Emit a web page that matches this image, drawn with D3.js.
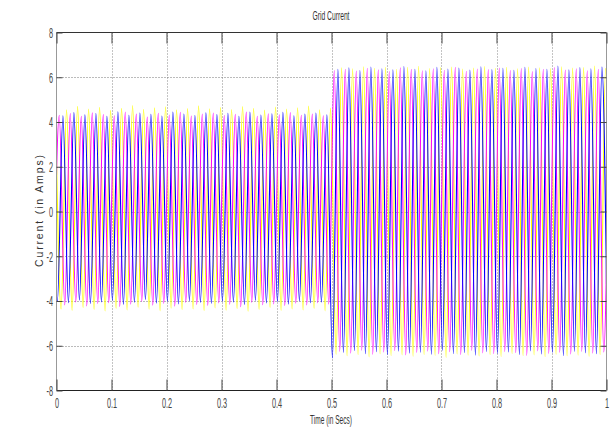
<!DOCTYPE html>
<html><head><meta charset="utf-8">
<script src="https://cdn.jsdelivr.net/npm/d3@7"></script>
<style>html,body{margin:0;padding:0;background:#fff;} svg{display:block;}</style>
</head><body><svg id="chart" width="613" height="429"></svg>
<script>
// ---------- data ----------
const titleText = "Grid Current";
const xLabelText = "Time (in Secs)";
const yLabelText = "Current (in Amps)";
const xTicks = [0, 0.1, 0.2, 0.3, 0.4, 0.5, 0.6, 0.7, 0.8, 0.9, 1];
const xTickLabels = ["0", "0.1", "0.2", "0.3", "0.4", "0.5", "0.6", "0.7", "0.8", "0.9", "1"];
const yTicks = [-8, -6, -4, -2, 0, 2, 4, 6, 8];
const yTickLabels = ["-8", "-6", "-4", "-2", "0", "2", "4", "6", "8"];
const gridX = [0.1, 0.2, 0.3, 0.4, 0.5, 0.6, 0.7, 0.8, 0.9];
const gridY = [-6, -4, -2, 0, 2, 4, 6];

// 50 Hz three-phase grid current: one peak per cycle (seconds between peaks)
const period = 0.02;
// time of the first positive / negative peak of each phase (s)
const yellowPosStart = -0.00167, yellowNegStart = 0.00833;
const magentaPosStart = 0.005, magentaNegStart = -0.005;
const bluePosStart = -0.00833, blueNegStart = 0.00167;

// peak values per cycle (A)
const yellowPos = [4.62,4.55,4.70,4.58,4.66,4.52,4.61,4.74,4.57,4.63,4.68,4.54,4.60,4.72,4.59,4.65,4.56,4.69,4.61,4.53,4.67,4.58,4.64,4.71,4.55,4.62,
  6.42,6.38,6.47,6.40,6.45,6.36,6.44,6.49,6.39,6.43,6.46,6.37,6.41,6.48,6.40,6.44,6.38,6.46,6.42,6.39,6.47,6.41,6.43,6.50,6.40];
const yellowNeg = [-4.35,-4.42,-4.30,-4.38,-4.45,-4.33,-4.40,-4.28,-4.37,-4.44,-4.32,-4.39,-4.36,-4.43,-4.31,-4.41,-4.34,-4.46,-4.38,-4.29,-4.42,-4.35,-4.40,-4.33,-4.44,
  -6.38,-6.45,-6.40,-6.50,-6.36,-6.44,-6.41,-6.47,-6.39,-6.43,-6.52,-6.37,-6.42,-6.46,-6.40,-6.48,-6.35,-6.44,-6.41,-6.49,-6.38,-6.45,-6.42,-6.47,-6.39,-6.44];
const magentaPos = [4.30,4.38,4.25,4.41,4.33,4.28,4.45,4.35,4.22,4.39,4.31,4.43,4.27,4.36,4.40,4.29,4.34,4.44,4.26,4.37,4.32,4.42,4.30,4.35,4.28,
  6.30,6.36,6.28,6.40,6.33,6.26,6.42,6.35,6.29,6.38,6.31,6.44,6.27,6.37,6.34,6.41,6.30,6.39,6.25,6.36,6.43,6.32,6.38,6.29,6.35,6.40];
const magentaNeg = [-4.10,-4.18,-4.05,-4.22,-4.12,-4.08,-4.25,-4.14,-4.02,-4.19,-4.11,-4.23,-4.07,-4.16,-4.20,-4.09,-4.15,-4.26,-4.06,-4.17,-4.13,-4.21,-4.10,-4.18,-4.08,-4.14,
  -6.25,-6.33,-6.20,-6.38,-6.28,-6.22,-6.41,-6.30,-6.24,-6.36,-6.27,-6.39,-6.21,-6.32,-6.35,-6.26,-6.31,-6.43,-6.23,-6.34,-6.29,-6.37,-6.25,-6.33,-6.28];
const bluePos = [4.35,4.28,4.42,4.32,4.38,4.25,4.46,4.30,4.40,4.34,4.27,4.44,4.36,4.29,4.41,4.33,4.39,4.26,4.45,4.31,4.37,4.43,4.28,4.35,4.40,4.32,
  6.35,6.42,6.30,6.46,6.38,6.33,6.48,6.36,6.29,6.44,6.37,6.41,6.32,6.47,6.34,6.40,6.31,6.45,6.39,6.36,6.50,6.33,6.43,6.38,6.46];
const blueNeg = [-4.00,-4.08,-3.96,-4.12,-4.04,-3.98,-4.15,-4.06,-3.94,-4.10,-4.02,-4.13,-3.99,-4.07,-4.11,-4.01,-4.05,-4.16,-3.97,-4.09,-4.03,-4.14,-4.00,-4.08,-4.05,
  -6.55,-6.30,-6.22,-6.36,-6.27,-6.40,-6.24,-6.33,-6.29,-6.38,-6.21,-6.35,-6.31,-6.42,-6.26,-6.34,-6.28,-6.39,-6.23,-6.37,-6.30,-6.44,-6.25,-6.32,-6.36,-6.29];

// ---------- layout ----------
const pLeft = 56.5, pRight = 606.5, pTop = 32.5, pBottom = 390.5;
const svg = d3.select("#chart");
const x = d3.scaleLinear().domain([0, 1]).range([pLeft, pRight]);
const y = d3.scaleLinear().domain([-8, 8]).range([pBottom, pTop]);

function buildSeries(posStart, pos, negStart, neg) {
  const pts = pos.map((v, i) => ({t: posStart + i * period, v}))
    .concat(neg.map((v, i) => ({t: negStart + i * period, v})));
  return pts.sort((a, b) => a.t - b.t);
}
const series = [
  {color: "#ffff00", data: buildSeries(yellowPosStart, yellowPos, yellowNegStart, yellowNeg)},
  {color: "#ff00ff", data: buildSeries(magentaPosStart, magentaPos, magentaNegStart, magentaNeg)},
  {color: "#0000ff", data: buildSeries(bluePosStart, bluePos, blueNegStart, blueNeg)}
];

// grid
svg.append("g").selectAll("line").data(gridX).join("line")
  .attr("x1", d => Math.round(x(d)) + 0.5).attr("x2", d => Math.round(x(d)) + 0.5)
  .attr("y1", pTop).attr("y2", pBottom)
  .attr("stroke", "#888").attr("stroke-dasharray", "1,2");
svg.append("g").selectAll("line").data(gridY).join("line")
  .attr("y1", d => Math.round(y(d)) + 0.5).attr("y2", d => Math.round(y(d)) + 0.5)
  .attr("x1", pLeft).attr("x2", pRight)
  .attr("stroke", "#777").attr("stroke-dasharray", "1,2");

// waveforms
svg.append("clipPath").attr("id", "plotclip").append("rect")
  .attr("x", pLeft).attr("y", pTop).attr("width", pRight - pLeft).attr("height", pBottom - pTop);
const line = d3.line().x(d => x(d.t)).y(d => y(d.v)).curve(d3.curveMonotoneX);
svg.append("g").attr("clip-path", "url(#plotclip)")
  .selectAll("path").data(series).join("path")
  .attr("d", d => line(d.data))
  .attr("fill", "none").attr("stroke", d => d.color).attr("stroke-width", 1.1);

// box
svg.append("line").attr("x1", pLeft).attr("x2", pRight).attr("y1", pTop).attr("y2", pTop).attr("stroke", "#333");
svg.append("line").attr("x1", pLeft).attr("x2", pRight).attr("y1", pBottom).attr("y2", pBottom).attr("stroke", "#222");
svg.append("line").attr("x1", pLeft).attr("x2", pLeft).attr("y1", pTop).attr("y2", pBottom).attr("stroke", "#999");
svg.append("line").attr("x1", pRight).attr("x2", pRight).attr("y1", pTop).attr("y2", pBottom).attr("stroke", "#999");

const tickFont = "'Liberation Sans', Arial, sans-serif";
const squeezeX = 0.47;

// axes
const xAxis = svg.append("g").attr("transform", `translate(0,${pBottom})`)
  .call(d3.axisBottom(x).tickValues(xTicks).tickFormat((d, i) => xTickLabels[i]).tickSizeInner(-11).tickSizeOuter(0).tickPadding(7));
const xTopAxis = svg.append("g").attr("transform", `translate(0,${pTop})`)
  .call(d3.axisTop(x).tickValues(xTicks).tickFormat("").tickSizeInner(-11).tickSizeOuter(0));
const yAxis = svg.append("g").attr("transform", `translate(${pLeft},0)`)
  .call(d3.axisLeft(y).tickValues(yTicks).tickFormat((d, i) => yTickLabels[i]).tickSizeInner(-6).tickSizeOuter(0).tickPadding(3.5));
const yRightAxis = svg.append("g").attr("transform", `translate(${pRight},0)`)
  .call(d3.axisRight(y).tickValues(yTicks).tickFormat("").tickSizeInner(-6).tickSizeOuter(0));
[xAxis, xTopAxis, yAxis, yRightAxis].forEach(g => {
  g.select(".domain").remove();
  g.selectAll(".tick line").attr("stroke", "#444");
  g.selectAll("text").attr("font-family", tickFont).attr("font-size", 15.5).attr("fill", "#444");
});
xAxis.selectAll(".tick text").attr("transform", `scale(${squeezeX},1)`);
yAxis.selectAll(".tick text").attr("x", -3.5 / squeezeX).attr("transform", `scale(${squeezeX},1)`);

// titles
svg.append("text").attr("x", 331).attr("y", 20).attr("text-anchor", "middle")
  .attr("font-family", tickFont).attr("font-size", 12).attr("fill", "#333").text(titleText)
  .attr("textLength", 37).attr("lengthAdjust", "spacingAndGlyphs");
svg.append("text").attr("x", 331).attr("y", 424).attr("text-anchor", "middle")
  .attr("font-family", tickFont).attr("font-size", 13.5).attr("fill", "#333").text(xLabelText)
  .attr("textLength", 42).attr("lengthAdjust", "spacingAndGlyphs");
svg.append("text").attr("transform", "translate(42.5,211) rotate(-90)").attr("text-anchor", "middle")
  .attr("font-family", tickFont).attr("font-size", 10.5).attr("fill", "#333").text(yLabelText)
  .attr("textLength", 112).attr("lengthAdjust", "spacing");
</script></body></html>
